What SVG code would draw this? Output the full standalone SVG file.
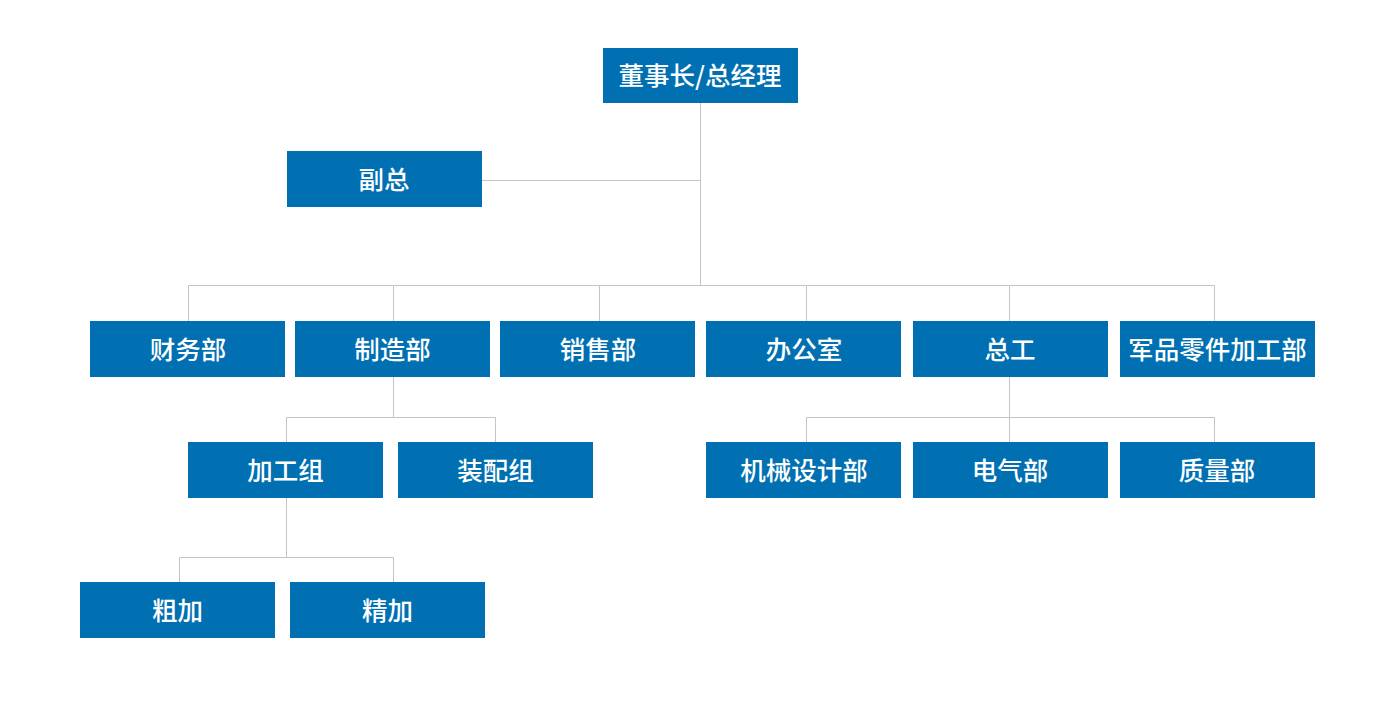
<svg xmlns="http://www.w3.org/2000/svg" width="1400" height="711" viewBox="0 0 1400 711">
<style>
.box{fill:#0070b2}
.lbl{fill:#ffffff;font-family:"Microsoft YaHei","Noto Sans CJK SC",sans-serif;font-size:25.5px;font-weight:500;text-anchor:middle;dominant-baseline:central}
.ln{stroke:#c4c4c4;stroke-width:1;fill:none}
</style>
<rect width="1400" height="711" fill="#ffffff"/>
<g id="connectors">
<path class="ln" d="M700.5 103V285.5M482 180.5H700.5M188.5 285.5H1214.5M188.5 285.5V321M393.5 285.5V321M599.5 285.5V321M806.5 285.5V321M1009.5 285.5V321M1214.5 285.5V321"/>
<path class="ln" d="M393.5 377V417.5M286.5 417.5H495.5M286.5 417.5V442M495.5 417.5V442"/>
<path class="ln" d="M1009.5 377V417.5M806.5 417.5H1214.5M806.5 417.5V442M1009.5 417.5V442M1214.5 417.5V442"/>
<path class="ln" d="M286.5 498V557.5M179.5 557.5H393.5M179.5 557.5V582M393.5 557.5V582"/>
</g>
<g id="n-ceo"><rect class="box" x="603" y="48" width="195" height="55"/><text class="lbl" x="700" y="73.5">董事长/总经理</text></g>
<g id="n-vp"><rect class="box" x="287" y="151" width="195" height="56"/><text class="lbl" x="384" y="177">副总</text></g>
<g id="n-finance"><rect class="box" x="90" y="321" width="195" height="56"/><text class="lbl" x="188" y="347">财务部</text></g>
<g id="n-manufacture"><rect class="box" x="295" y="321" width="195" height="56"/><text class="lbl" x="392.5" y="347">制造部</text></g>
<g id="n-sales"><rect class="box" x="500" y="321" width="195" height="56"/><text class="lbl" x="598" y="347">销售部</text></g>
<g id="n-office"><rect class="box" x="706" y="321" width="195" height="56"/><text class="lbl" x="804" y="347">办公室</text></g>
<g id="n-chief"><rect class="box" x="913" y="321" width="195" height="56"/><text class="lbl" x="1010" y="347">总工</text></g>
<g id="n-military"><rect class="box" x="1120" y="321" width="195" height="56"/><text class="lbl" x="1217.5" y="347">军品零件加工部</text></g>
<g id="n-machining"><rect class="box" x="188" y="442" width="195" height="56"/><text class="lbl" x="285.5" y="468">加工组</text></g>
<g id="n-assembly"><rect class="box" x="398" y="442" width="195" height="56"/><text class="lbl" x="495.5" y="468">装配组</text></g>
<g id="n-mech"><rect class="box" x="706" y="442" width="195" height="56"/><text class="lbl" x="804" y="468">机械设计部</text></g>
<g id="n-elec"><rect class="box" x="913" y="442" width="195" height="56"/><text class="lbl" x="1010" y="468">电气部</text></g>
<g id="n-quality"><rect class="box" x="1120" y="442" width="195" height="56"/><text class="lbl" x="1217" y="468">质量部</text></g>
<g id="n-rough"><rect class="box" x="80" y="582" width="195" height="56"/><text class="lbl" x="177.5" y="608">粗加</text></g>
<g id="n-fine"><rect class="box" x="290" y="582" width="195" height="56"/><text class="lbl" x="387.5" y="608">精加</text></g>
</svg>
